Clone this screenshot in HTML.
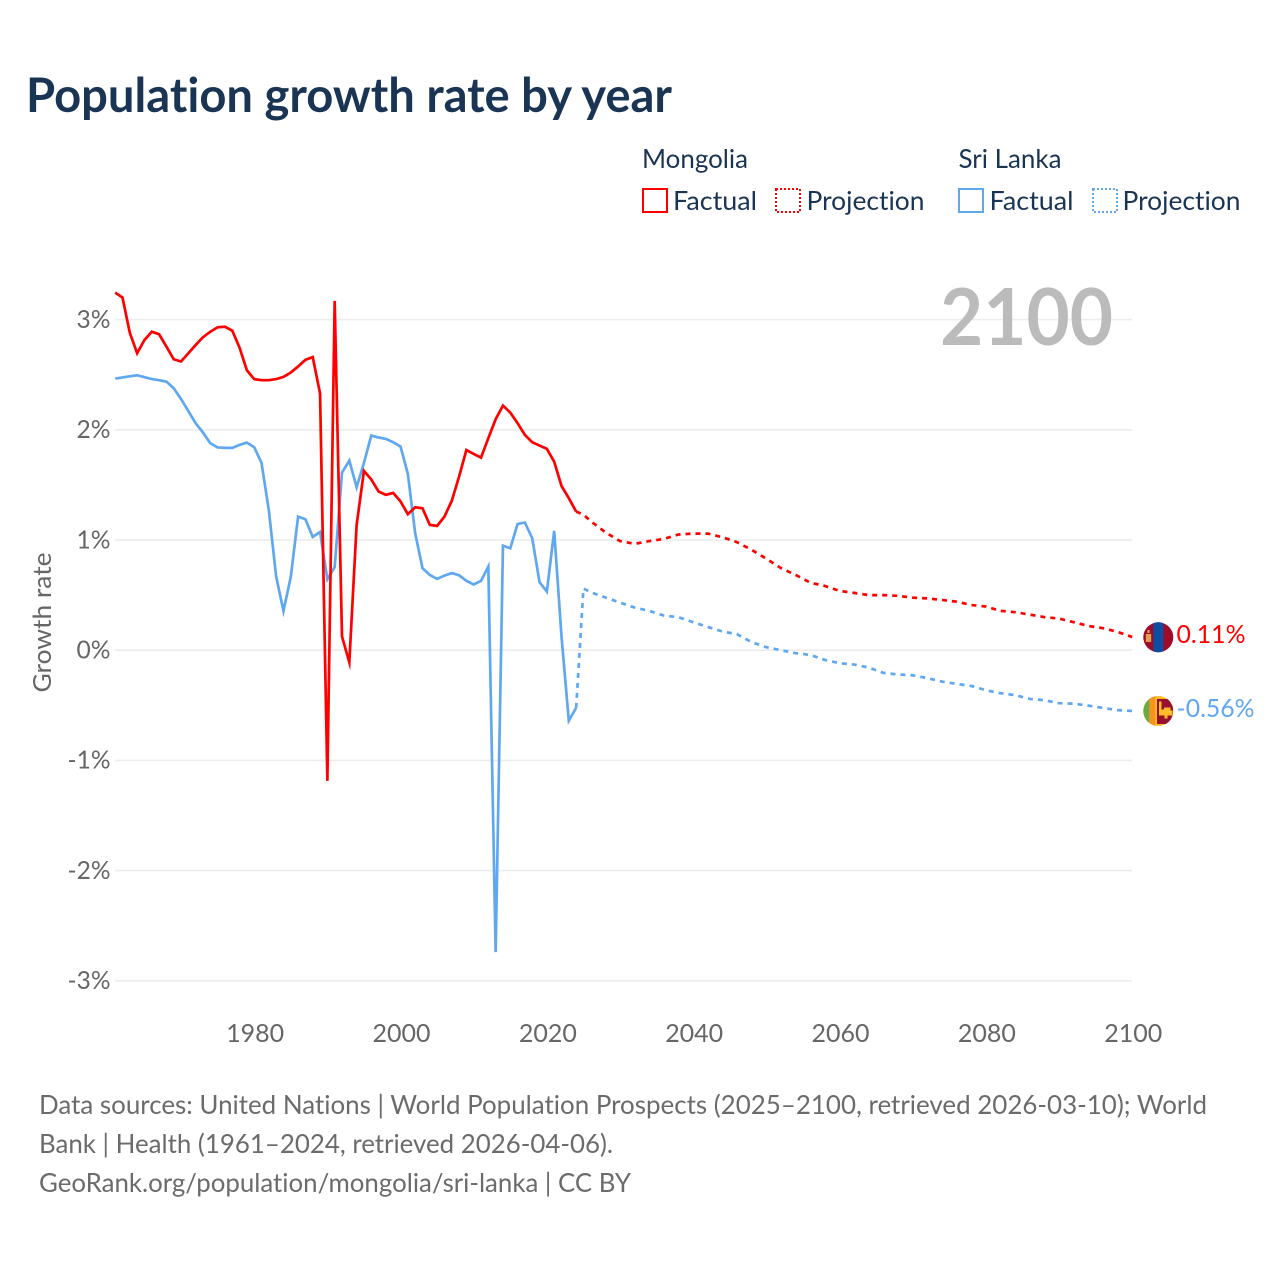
<!DOCTYPE html>
<html lang="en">
<head>
<meta charset="utf-8">
<title>Population growth rate by year</title>
<style>
html,body{margin:0;padding:0;background:#fff;width:1280px;height:1280px;overflow:hidden}
svg{display:block}
text{font-family:"Lato","Carlito","Liberation Sans",sans-serif;font-variant-ligatures:none;font-feature-settings:"liga" 0}
</style>
</head>
<body>
<svg id="chart" width="1280" height="1280" viewBox="0 0 1280 1280" xmlns="http://www.w3.org/2000/svg">
  <text x="26" y="112" font-size="48" font-weight="700" fill="#1a3454" textLength="646" lengthAdjust="spacingAndGlyphs">Population growth rate by year</text>

  <g fill="#1a3454" font-size="26">
    <text x="642" y="168" textLength="106" lengthAdjust="spacingAndGlyphs">Mongolia</text>
    <text x="958.5" y="168" textLength="103" lengthAdjust="spacingAndGlyphs">Sri Lanka</text>
    <g>
      <rect x="643" y="189" width="24" height="23" fill="none" stroke="#ff0000" stroke-width="2"/>
      <text x="673" y="210" textLength="84" lengthAdjust="spacingAndGlyphs">Factual</text>
    </g>
    <g>
      <rect x="776" y="189" width="24" height="23" fill="none" stroke="#ff0000" stroke-width="2" stroke-dasharray="2 2"/>
      <text x="806.5" y="210" textLength="118" lengthAdjust="spacingAndGlyphs">Projection</text>
    </g>
    <g>
      <rect x="959" y="189" width="24" height="23" fill="none" stroke="#5fa8f0" stroke-width="2"/>
      <text x="989.5" y="210" textLength="84" lengthAdjust="spacingAndGlyphs">Factual</text>
    </g>
    <g>
      <rect x="1093" y="189" width="24" height="23" fill="none" stroke="#5fa8f0" stroke-width="2" stroke-dasharray="2 2"/>
      <text x="1122.5" y="210" textLength="118" lengthAdjust="spacingAndGlyphs">Projection</text>
    </g>
  </g>

  <g id="grid"></g>
  <g id="yticks"></g>
  <g id="xticks"></g>

  <text x="940" y="345" font-size="79" font-weight="700" fill="#bbbbbb" textLength="173" lengthAdjust="spacingAndGlyphs">2100</text>

  <text transform="translate(51,622.5) rotate(-90)" text-anchor="middle" font-size="25.6" fill="#666666" textLength="140" lengthAdjust="spacingAndGlyphs">Growth rate</text>

  <g id="series"></g>

  <defs>
    <clipPath id="flag-clip-mn"><circle cx="1158.3" cy="637.3" r="15"/></clipPath>
    <clipPath id="flag-clip-lk"><circle cx="1158.3" cy="711" r="15"/></clipPath>
  </defs>

  <g clip-path="url(#flag-clip-mn)">
    <rect x="1143" y="622" width="31" height="31" fill="#9e0b2b"/>
    <rect x="1153.3" y="622" width="10" height="31" fill="#0b4ea2"/>
    <rect x="1145.8" y="634" width="5.4" height="8" fill="#dda24a"/>
    <rect x="1147.5" y="630" width="2" height="3" fill="#e8b04a"/>
  </g>
  <g clip-path="url(#flag-clip-lk)">
    <rect x="1143" y="696" width="31" height="31" fill="#ffbe29"/>
    <rect x="1143" y="696" width="6.4" height="31" fill="#70a845"/>
    <rect x="1149.4" y="696" width="6" height="31" fill="#f7941d"/>
    <rect x="1157" y="699" width="16" height="25" fill="#99102e"/>
    <path d="M1159 701.5h2.5v8h2.5v-2h6.500v3h2v5h-5v3h-3v-3h-5.500z" fill="#ffbe29"/>
  </g>

  <text x="1176.500" y="643" font-size="25.6" fill="#ff0000" textLength="69" lengthAdjust="spacingAndGlyphs">0.11%</text>
  <text x="1176.500" y="717" font-size="25.6" fill="#5fa8f0" textLength="78" lengthAdjust="spacingAndGlyphs">-0.56%</text>

  <g font-size="26" fill="#6b6b6b">
    <text x="39" y="1114" textLength="1168" lengthAdjust="spacingAndGlyphs">Data sources: United Nations | World Population Prospects (2025–2100, retrieved 2026-03-10); World</text>
    <text x="39" y="1153" textLength="574" lengthAdjust="spacingAndGlyphs">Bank | Health (1961–2024, retrieved 2026-04-06).</text>
    <text x="39" y="1192" textLength="592" lengthAdjust="spacingAndGlyphs">GeoRank.org/population/mongolia/sri-lanka | CC BY</text>
  </g>
</svg>
<script>
const factualYears = [1961,1962,1963,1964,1965,1966,1967,1968,1969,1970,1971,1972,1973,1974,1975,1976,1977,1978,1979,1980,1981,1982,1983,1984,1985,1986,1987,1988,1989,1990,1991,1992,1993,1994,1995,1996,1997,1998,1999,2000,2001,2002,2003,2004,2005,2006,2007,2008,2009,2010,2011,2012,2013,2014,2015,2016,2017,2018,2019,2020,2021,2022,2023,2024];
const mongoliaFactual = [3.245,3.20,2.88,2.695,2.815,2.89,2.867,2.755,2.64,2.62,2.695,2.77,2.84,2.89,2.93,2.935,2.90,2.745,2.54,2.46,2.45,2.45,2.46,2.48,2.52,2.575,2.635,2.66,2.33,-1.185,3.17,0.125,-0.11,1.137,1.627,1.55,1.44,1.41,1.427,1.35,1.234,1.297,1.288,1.137,1.128,1.212,1.355,1.575,1.817,1.781,1.748,1.924,2.096,2.22,2.156,2.06,1.953,1.887,1.857,1.827,1.711,1.491,1.379,1.258];
const sriLankaFactual = [2.465,2.475,2.485,2.495,2.477,2.46,2.45,2.437,2.377,2.28,2.17,2.06,1.975,1.878,1.84,1.836,1.836,1.863,1.884,1.842,1.70,1.27,0.67,0.356,0.665,1.212,1.188,1.028,1.073,0.644,0.753,1.612,1.72,1.479,1.70,1.948,1.93,1.917,1.887,1.848,1.60,1.062,0.744,0.683,0.647,0.677,0.70,0.68,0.629,0.596,0.629,0.759,-2.74,0.949,0.925,1.146,1.158,1.016,0.617,0.532,1.083,0.125,-0.64,-0.523];
const projectionYears = [2024,2025,2026,2028,2030,2032,2034,2036,2038,2040,2042,2044,2046,2048,2050,2052,2054,2056,2058,2060,2062,2064,2066,2068,2070,2072,2074,2076,2078,2080,2082,2084,2086,2088,2090,2092,2094,2096,2098,2100];
const mongoliaProjection = [1.258,1.23,1.17,1.07,0.99,0.965,0.99,1.01,1.05,1.058,1.058,1.025,0.98,0.91,0.83,0.745,0.683,0.613,0.583,0.538,0.52,0.50,0.50,0.493,0.477,0.47,0.456,0.44,0.41,0.396,0.357,0.345,0.323,0.30,0.287,0.254,0.22,0.20,0.166,0.12];
const sriLankaProjection = [-0.523,0.56,0.526,0.478,0.432,0.387,0.357,0.314,0.30,0.254,0.211,0.169,0.145,0.072,0.027,0,-0.027,-0.043,-0.088,-0.118,-0.13,-0.158,-0.206,-0.221,-0.227,-0.254,-0.285,-0.306,-0.324,-0.363,-0.39,-0.408,-0.442,-0.454,-0.481,-0.485,-0.503,-0.524,-0.544,-0.551];
const yTickValues = [3,2,1,0,-1,-2,-3];
const yTickLabels = ['3%','2%','1%','0%','-1%','-2%','-3%'];
const xTickLabels = [1980,2000,2020,2040,2060,2080,2100];

const SVG_NS = 'http://www.w3.org/2000/svg';
function xScale(year){ return 254.2 + (year - 1980) * 7.3167; }
function yScale(value){ return 650.2 - value * 110.2; }
function make(tag, parent){
  const el = document.createElementNS(SVG_NS, tag);
  parent.appendChild(el);
  return el;
}

const gridGroup = document.getElementById('grid');
const yGroup = document.getElementById('yticks');
yTickValues.forEach(function(v, i){
  const line = make('line', gridGroup);
  
  
  line.setAttribute('x1', xScale(1961));
  line.setAttribute('x2', xScale(2100));
  line.setAttribute('y1', yScale(v));
  line.setAttribute('y2', yScale(v));
  line.setAttribute('stroke', '#ececec');
  line.setAttribute('stroke-width', '1.6');
  const t = make('text', yGroup);
  
  
  t.setAttribute('x', 76.5 - (yTickLabels[i].length - 2) * 9);
  t.setAttribute('y', yScale(v) + 8.3);
  t.setAttribute('font-size', '25.6');
  t.setAttribute('fill', '#666666');
  t.setAttribute('textLength', 34 + (yTickLabels[i].length - 2) * 9);
  t.setAttribute('lengthAdjust', 'spacingAndGlyphs');
  t.textContent = yTickLabels[i];
});

const xGroup = document.getElementById('xticks');
xTickLabels.forEach(function(year){
  const t = make('text', xGroup);
  
  
  t.setAttribute('x', xScale(year) - 28);
  t.setAttribute('y', 1042);
  t.setAttribute('font-size', '25.6');
  t.setAttribute('fill', '#666666');
  t.setAttribute('textLength', '58');
  t.setAttribute('lengthAdjust', 'spacingAndGlyphs');
  t.textContent = year;
});

function pathFrom(years, values){
  return values.map(function(v, i){
    return (i ? 'L' : 'M') + xScale(years[i]).toFixed(2) + ' ' + yScale(v).toFixed(2);
  }).join('');
}
const seriesGroup = document.getElementById('series');
function drawLine(name, years, values, color, dashed){
  const p = make('path', seriesGroup);
  
  
  p.setAttribute('d', pathFrom(years, values));
  p.setAttribute('fill', 'none');
  p.setAttribute('stroke', color);
  p.setAttribute('stroke-width', '2.7');
  p.setAttribute('stroke-linejoin', 'miter');
  p.setAttribute('stroke-miterlimit', '10');
  if (dashed) p.setAttribute('stroke-dasharray', '5 5');
}
drawLine('line-sri-lanka-factual', factualYears, sriLankaFactual, '#5fa8f0', false);
drawLine('line-sri-lanka-projection', projectionYears, sriLankaProjection, '#5fa8f0', true);
drawLine('line-mongolia-factual', factualYears, mongoliaFactual, '#ff0000', false);
drawLine('line-mongolia-projection', projectionYears, mongoliaProjection, '#ff0000', true);
</script>
</body>
</html>
